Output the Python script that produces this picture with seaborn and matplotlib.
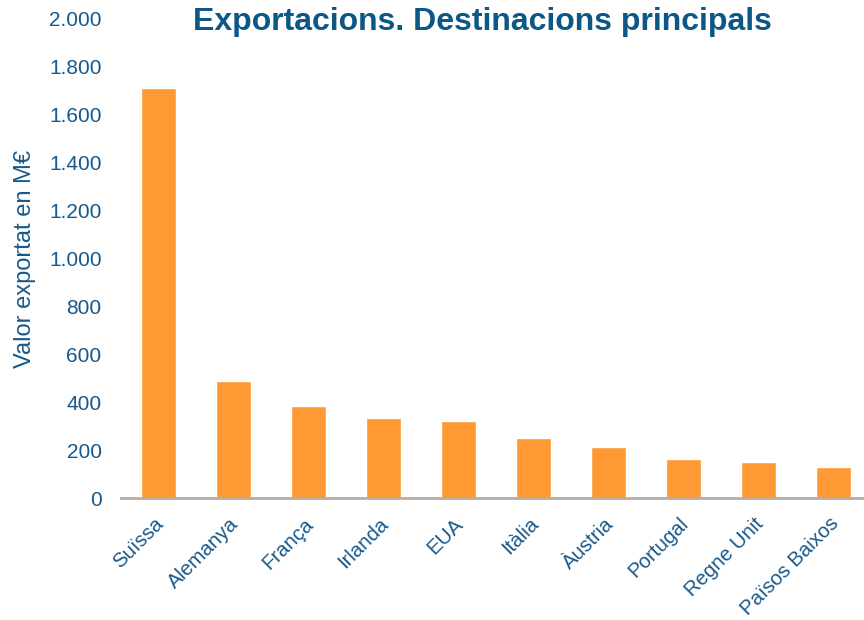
import matplotlib
matplotlib.use('Agg')
import matplotlib.pyplot as plt
import matplotlib.ticker as mticker
import matplotlib.transforms as mtransforms
import seaborn as sns
import pandas as pd

# Data (M€)
paisos = ['Suïssa', 'Alemanya', 'França', 'Irlanda', 'EUA', 'Itàlia',
          'Àustria', 'Portugal', 'Regne Unit', 'Països Baixos']
valors = [1712, 489, 385, 335, 322, 251, 213, 162, 152, 131]

df = pd.DataFrame({'pais': paisos, 'valor': valors})

blau = '#17598A'
taronja = '#FF9933'

sns.set_style('white')
plt.rcParams['font.family'] = ['Liberation Sans', 'DejaVu Sans']

fig = plt.figure(figsize=(8.64, 6.2), dpi=100)
ax = fig.add_axes([121 / 864, 1 - 498 / 620, 750 / 864, (498 - 19) / 620])

sns.barplot(data=df, x='pais', y='valor', color=taronja, width=0.47,
            saturation=1, ax=ax)

ax.set_ylim(0, 2000)
ax.set_xlim(-0.5, 9.5)
ax.set_yticks(range(0, 2001, 200))
ax.yaxis.set_major_formatter(mticker.FuncFormatter(lambda v, p: f'{int(v):,}'.replace(',', '.')))
ax.tick_params(axis='y', labelsize=15, labelcolor=blau, length=0, pad=14)
ax.tick_params(axis='x', labelsize=14.7, labelcolor=blau, length=0, pad=16.5)
shift = mtransforms.ScaledTranslation(2 / 100, 0, fig.dpi_scale_trans)
for lab in ax.get_xticklabels():
    lab.set_rotation(45)
    lab.set_ha('right')
    lab.set_va('center')
    lab.set_rotation_mode('anchor')
    lab.set_transform(lab.get_transform() + shift)

for s in ['top', 'right', 'left']:
    ax.spines[s].set_visible(False)
ax.spines['bottom'].set_color('#B5ADA5')
ax.spines['bottom'].set_linewidth(2)

ax.set_xlabel('')
ax.set_ylabel('Valor exportat en M€', fontsize=17, color=blau)
ax.yaxis.set_label_coords(-0.114, 0.5)

fig.text(0.558, 0.965, 'Exportacions. Destinacions principals', ha='center', va='center',
         fontsize=23, fontweight='bold', color='#0B5785')

fig.savefig('out.png', dpi=100)
